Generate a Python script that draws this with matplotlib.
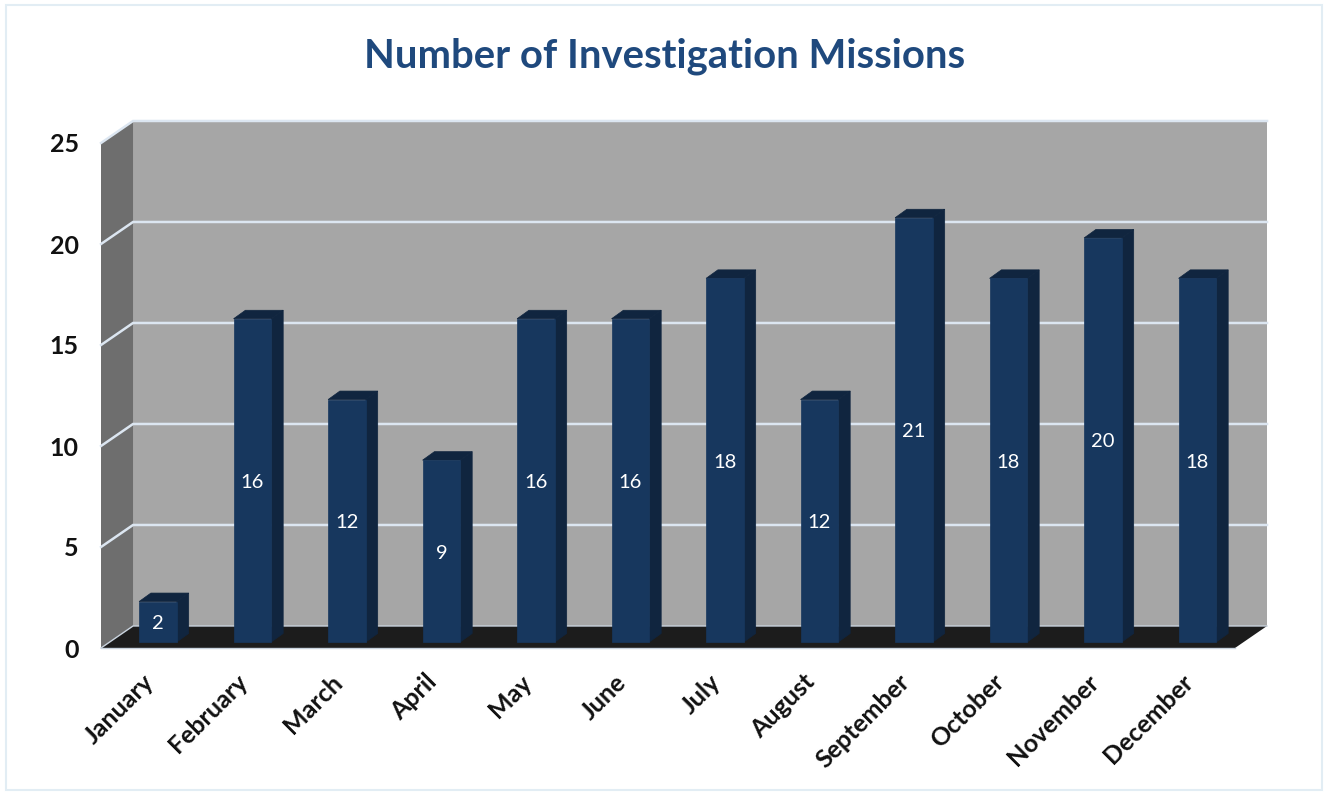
import matplotlib.pyplot as plt
from matplotlib.patches import Polygon, Rectangle

months = ["January", "February", "March", "April", "May", "June", "July",
          "August", "September", "October", "November", "December"]
missions = [2, 16, 12, 9, 16, 16, 18, 12, 21, 18, 20, 18]
y_ticks = [0, 5, 10, 15, 20, 25]

WALL_DX = 0.339
WALL_DY = 1.09
BAR_SHIFT_X = 0.103
BAR_BASE = 0.3
BAR_WIDTH = 0.40
BAR_DX = 0.125
BAR_DY = 0.42

FRONT = "#17375E"
DARK = "#10253F"
GRID = "#DCE6F1"

plt.rcParams["font.family"] = ["Lato", "DejaVu Sans"]

fig = plt.figure(figsize=(13.24, 7.92), dpi=100, facecolor="white")
fig.add_artist(Rectangle((6 / 1324, 2 / 792), 1316 / 1324, 785 / 792, transform=fig.transFigure,
                         fill=False, edgecolor="#E2EDF4", linewidth=1.5))

ax = fig.add_axes([101 / 1324, 1 - 648 / 792, 1134 / 1324, 505 / 792])
ax.set_xlim(-0.5, 11.5)
ax.set_ylim(0, 25)
ax.patch.set_visible(False)
for spine in ax.spines.values():
    spine.set_visible(False)

x0, x1 = -0.5, 11.5
top = y_ticks[-1]

# back wall, side wall, floor
ax.add_patch(Polygon([(x0 + WALL_DX, WALL_DY), (x1 + WALL_DX, WALL_DY),
                      (x1 + WALL_DX, top + WALL_DY), (x0 + WALL_DX, top + WALL_DY)],
                     facecolor="#A6A6A6", edgecolor="none", clip_on=False, zorder=1))
ax.add_patch(Polygon([(x0, 0), (x0 + WALL_DX, WALL_DY),
                      (x0 + WALL_DX, top + WALL_DY), (x0, top)],
                     facecolor="#6E6E6E", edgecolor="none", clip_on=False, zorder=1))
ax.add_patch(Polygon([(x0, 0), (x1, 0), (x1 + WALL_DX, WALL_DY), (x0 + WALL_DX, WALL_DY)],
                     facecolor="#1C1C1C", edgecolor="none", clip_on=False, zorder=1))

# gridlines run along the side wall then across the back wall
for tick in y_ticks:
    if tick == 0:
        continue
    ax.plot([x0, x0 + WALL_DX, x1 + WALL_DX], [tick, tick + WALL_DY, tick + WALL_DY],
            color=GRID, linewidth=1.8, clip_on=False, zorder=2, solid_joinstyle="miter")
ax.plot([x0, x0 + WALL_DX, x1 + WALL_DX], [0, WALL_DY, WALL_DY],
        color="#C9D3DE", linewidth=1, clip_on=False, zorder=2)
ax.plot([x0, x1], [0, 0], color="#C9D3DE", linewidth=1, clip_on=False, zorder=2)

# bars: front face plus side and top faces
positions = [i + BAR_SHIFT_X for i in range(len(months))]
ax.bar(positions, missions, width=BAR_WIDTH, bottom=BAR_BASE, color=FRONT,
       edgecolor=FRONT, linewidth=0.5, zorder=4, clip_on=False)
for pos, value in zip(positions, missions):
    left = pos - BAR_WIDTH / 2
    right = pos + BAR_WIDTH / 2
    bar_top = value + BAR_BASE
    ax.add_patch(Polygon([(right, BAR_BASE), (right + BAR_DX, BAR_BASE + BAR_DY),
                          (right + BAR_DX, bar_top + BAR_DY), (right, bar_top)],
                         facecolor=DARK, edgecolor=DARK, linewidth=0.5, zorder=3, clip_on=False))
    ax.add_patch(Polygon([(left, bar_top), (right, bar_top),
                          (right + BAR_DX, bar_top + BAR_DY), (left + BAR_DX, bar_top + BAR_DY)],
                         facecolor=DARK, edgecolor=DARK, linewidth=0.5, zorder=3, clip_on=False))
    ax.text(pos, value / 2 + BAR_BASE - 0.1, str(value), color="white", fontsize=14.5,
            ha="center", va="center", zorder=5)

ax.set_yticks(y_ticks)
ax.set_yticklabels([str(t) for t in y_ticks], fontsize=18, fontweight="bold", color="#111111")
ax.tick_params(axis="y", length=0, pad=16)

ax.set_xticks([i - 0.07 for i in range(len(months))])
ax.set_xticklabels(months, rotation=45, ha="right", rotation_mode="anchor",
                   fontsize=18, fontweight="bold", color="#111111")
ax.tick_params(axis="x", length=0, pad=16)

fig.text(665 / 1324, 1 - 56 / 792, "Number of Investigation Missions", color="#1F497D",
         fontsize=28.8, fontweight="bold", ha="center", va="center")

fig.savefig("out.png", dpi=100)
plt.close(fig)
